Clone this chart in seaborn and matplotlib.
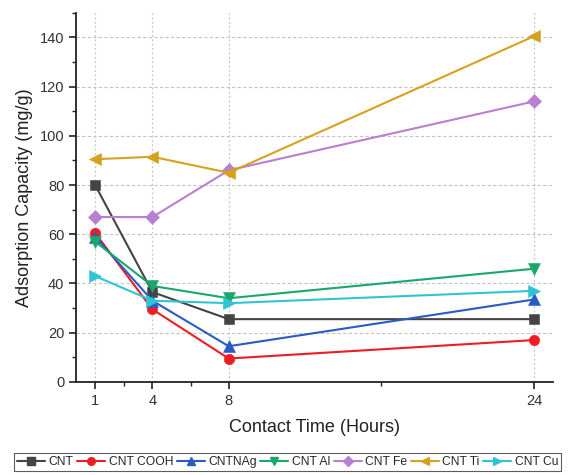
import matplotlib
matplotlib.use("Agg")
import matplotlib.pyplot as plt
import seaborn as sns
import pandas as pd
from matplotlib.ticker import FixedLocator

hours = [1, 4, 8, 24]
series_names = ["CNT", "CNT COOH", "CNTNAg", "CNT Al", "CNT Fe", "CNT Ti", "CNT Cu"]
cnt = [80, 36.5, 25.5, 25.5]
cnt_cooh = [60.5, 29.5, 9.5, 17]
cntnag = [59, 33, 14.5, 33.5]
cnt_al = [57, 39, 34, 46]
cnt_fe = [67, 67, 86, 114]
cnt_ti = [90.5, 91.5, 85, 140.5]
cnt_cu = [43, 33, 32, 37]
values = [cnt, cnt_cooh, cntnag, cnt_al, cnt_fe, cnt_ti, cnt_cu]

colors = ["#444444", "#ee1c25", "#2a5bc4", "#1aa86a", "#b97fd0", "#d6a21e", "#2ec4d6"]
markers = ["s", "o", "^", "v", "D", "<", ">"]
msizes = [7, 7.5, 8.5, 8.5, 7, 8.5, 8.5]

sns.set_style("ticks")
plt.rcParams["font.family"] = ["Liberation Sans", "DejaVu Sans"]

fig = plt.figure(figsize=(5.72, 4.75), dpi=100)
ax = fig.add_axes([0.133, 0.196, 0.834, 0.777])

for name, vals, c, m, ms in zip(series_names, values, colors, markers, msizes):
    d = pd.DataFrame({"Hours": hours, "Capacity": vals})
    sns.lineplot(data=d, x="Hours", y="Capacity", color=c, marker=m,
                 markersize=ms, linewidth=1.5, markeredgewidth=0.4,
                 markeredgecolor=c, ax=ax, legend=False, zorder=3)

ax.set_xlim(0, 25)
ax.set_ylim(0, 150)
ax.set_xticks(hours)
ax.xaxis.set_minor_locator(FixedLocator([2.5, 6, 16]))
ax.set_yticks(range(0, 141, 20))
ax.yaxis.set_minor_locator(FixedLocator(list(range(10, 151, 20))))
ax.tick_params(axis="both", which="major", labelsize=10.5, length=5, width=1.2,
               color="#222222", labelcolor="#333333")
ax.tick_params(axis="both", which="minor", length=3, width=1.0, color="#222222")
for s in ["top", "right"]:
    ax.spines[s].set_visible(False)
for s in ["left", "bottom"]:
    ax.spines[s].set_linewidth(1.3)
    ax.spines[s].set_color("#222222")

for y in range(20, 141, 20):
    ax.axhline(y, color="#c4c4c4", linestyle=(0, (3, 2)), linewidth=0.8, zorder=0)
for x in hours:
    ax.axvline(x, color="#c4c4c4", linestyle=(0, (1.5, 2)), linewidth=0.9, zorder=0)

ax.set_xlabel("Contact Time (Hours)", fontsize=13, labelpad=8, color="#222222")
ax.set_ylabel("Adsorption Capacity (mg/g)", fontsize=13, labelpad=5, color="#222222")

handles = [plt.Line2D([], [], color=c, marker=m, markersize=5.5, linewidth=1.5)
           for c, m in zip(colors, markers)]
leg = fig.legend(handles, series_names, loc="lower center", bbox_to_anchor=(0.503, 0.0),
                 ncol=7, fontsize=8.7, frameon=True, fancybox=False, edgecolor="#333333",
                 handlelength=2.3, handletextpad=0.3, columnspacing=0.3, borderpad=0.25,
                 borderaxespad=0.3)
leg.get_frame().set_linewidth(0.8)

fig.savefig("out.png", dpi=100)
